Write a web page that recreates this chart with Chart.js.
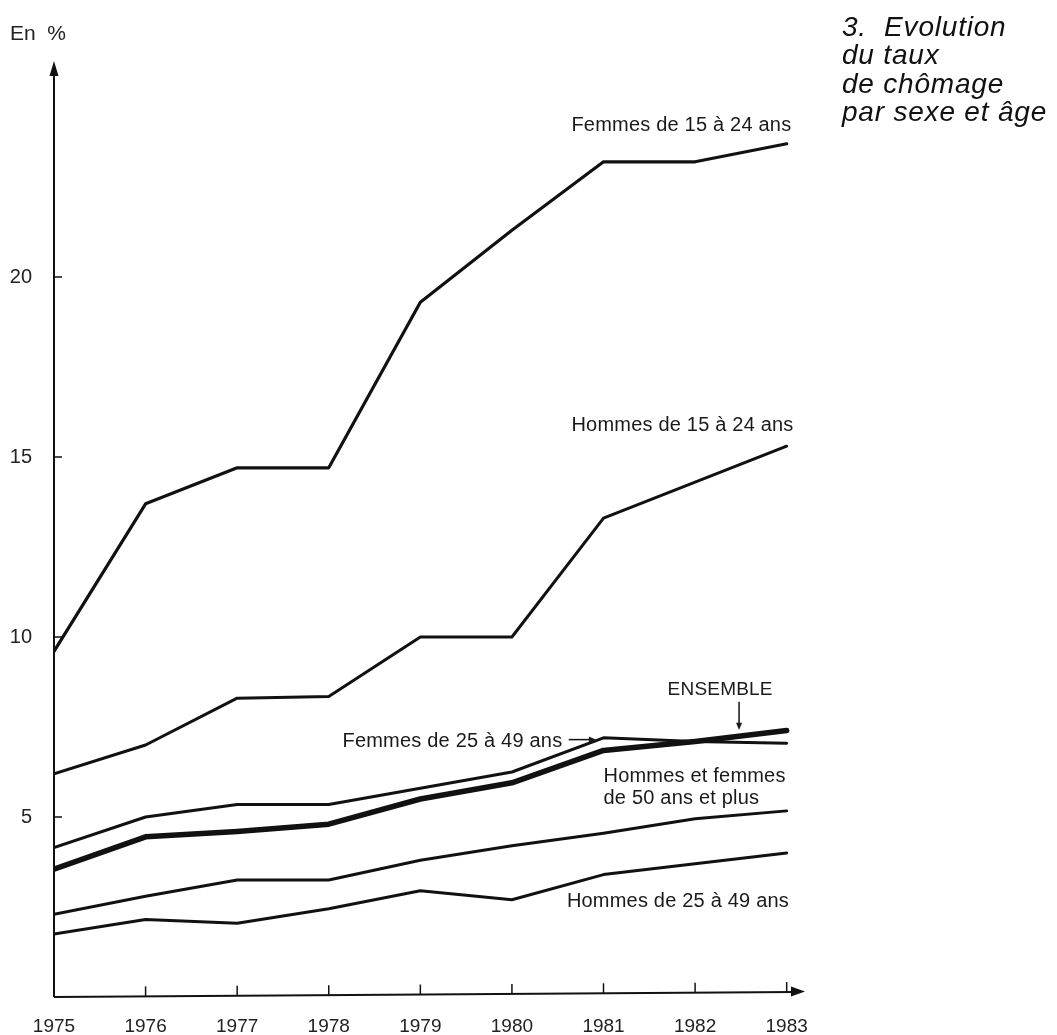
<!DOCTYPE html>
<html>
<head>
<meta charset="utf-8">
<script src="https://cdn.jsdelivr.net/npm/chart.js@4.4.1/dist/chart.umd.min.js"></script>
<style>
  html, body { margin: 0; padding: 0; background: #fff; }
  #wrap { position: relative; width: 1057px; height: 1035px; }
  #title {
    position: absolute; left: 842px; top: 13px;
    font-family: "Liberation Sans", Arial, sans-serif; font-style: italic;
    font-size: 28px; line-height: 28.3px; letter-spacing: 0.8px; color: #111;
    white-space: pre;
  }
  #unit {
    position: absolute; left: 10px; top: 21px;
    font-family: "Liberation Sans", Arial, sans-serif; font-size: 21px; color: #222;
    white-space: pre;
  }
</style>
</head>
<body>
<div id="wrap">
  <canvas id="c" width="1057" height="1035"></canvas>
  <div id="title">3.  Evolution
du taux
de chômage
par sexe et âge</div>
  <div id="unit">En  %</div>
</div>
<script>
// ---- data ----
const years = [1975, 1976, 1977, 1978, 1979, 1980, 1981, 1982, 1983];
const yearLabels = ["1975", "1976", "1977", "1978", "1979", "1980", "1981", "1982", "1983"];
const yTickValues = [5, 10, 15, 20];
const femmes1524 = [9.6, 13.7, 14.7, 14.7, 19.3, 21.3, 23.2, 23.2, 23.7];
const hommes1524 = [6.2, 7.0, 8.3, 8.35, 10.0, 10.0, 13.3, 14.3, 15.3];
const femmes2549 = [4.15, 5.0, 5.35, 5.35, 5.8, 6.25, 7.2, 7.1, 7.05];
const ensemble   = [3.55, 4.45, 4.6, 4.8, 5.5, 5.95, 6.85, 7.1, 7.4];
const plus50     = [2.3, 2.8, 3.25, 3.25, 3.8, 4.2, 4.55, 4.95, 5.17];
const hommes2549 = [1.75, 2.15, 2.05, 2.45, 2.95, 2.7, 3.4, 3.7, 4.0];

const INK = '#111';
const FONT = '"Liberation Sans", Arial, sans-serif';

function pts(arr) { return years.map((yr, i) => ({ x: yr, y: arr[i] })); }
function ds(label, arr, w) {
  return {
    label, data: pts(arr), borderColor: INK, backgroundColor: INK,
    borderWidth: w, pointRadius: 0, tension: 0, fill: false,
    borderJoinStyle: 'round', borderCapStyle: 'round'
  };
}

const axesPlugin = {
  id: 'axesPlugin',
  beforeDatasetsDraw(chart) {
    const { ctx, chartArea: a, scales: { x, y } } = chart;
    const x0 = x.getPixelForValue(years[0]);
    const y0 = y.getPixelForValue(0);
    ctx.save();
    ctx.strokeStyle = INK; ctx.fillStyle = INK; ctx.lineWidth = 2;
    // y axis
    ctx.beginPath(); ctx.moveTo(x0, y0); ctx.lineTo(x0, a.top + 10); ctx.stroke();
    ctx.beginPath(); ctx.moveTo(x0, a.top); ctx.lineTo(x0 - 4.5, a.top + 15); ctx.lineTo(x0 + 4.5, a.top + 15); ctx.closePath(); ctx.fill();
    // x axis
    ctx.beginPath(); ctx.moveTo(x0, y0); ctx.lineTo(a.right - 10, y0 - 5); ctx.stroke();
    ctx.beginPath(); ctx.moveTo(a.right, y0 - 5.5); ctx.lineTo(a.right - 14, y0 - 10.5); ctx.lineTo(a.right - 14, y0 - 0.5); ctx.closePath(); ctx.fill();
    // inner ticks
    ctx.lineWidth = 1.5;
    yTickValues.forEach(v => {
      const py = y.getPixelForValue(v);
      ctx.beginPath(); ctx.moveTo(x0, py); ctx.lineTo(x0 + 8, py); ctx.stroke();
    });
    years.forEach((yr, i) => {
      if (i === 0) return;
      const px = x.getPixelForValue(yr);
      const slope = -5 * (px - x0) / (a.right - 10 - x0);
      ctx.beginPath(); ctx.moveTo(px, y0 + slope); ctx.lineTo(px, y0 + slope - 10); ctx.stroke();
    });
    ctx.restore();
  },
  afterDraw(chart) {
    const { ctx, scales: { x, y } } = chart;
    ctx.save();
    ctx.fillStyle = '#1a1a1a'; ctx.strokeStyle = INK;
    ctx.font = '20px ' + FONT;
    ctx.textBaseline = 'alphabetic';
    try { ctx.letterSpacing = '0.2px'; } catch (e) {}
    const txt = (s, px, py) => ctx.fillText(s, px, py);
    const X = v => x.getPixelForValue(v);
    const Y = v => y.getPixelForValue(v);
    txt('Femmes de 15 à 24 ans', X(1980.65), Y(24.05));
    txt('Hommes de 15 à 24 ans', X(1980.65), Y(15.72));
    txt('Hommes et femmes', X(1981.0), Y(5.97));
    txt('de 50 ans et plus', X(1981.0), Y(5.35));
    txt('Hommes de 25 à 49 ans', X(1980.6), Y(2.5));
    txt('Femmes de 25 à 49 ans', X(1978.15), Y(6.95));
    ctx.font = '19px ' + FONT;
    txt('ENSEMBLE', X(1981.7), Y(8.39));
    // pointer lines
    ctx.lineWidth = 1.5;
    const ax = X(1982.48);
    ctx.beginPath(); ctx.moveTo(ax, Y(8.2)); ctx.lineTo(ax, Y(7.55)); ctx.stroke();
    ctx.beginPath(); ctx.moveTo(ax - 3, Y(7.62)); ctx.lineTo(ax, Y(7.42)); ctx.lineTo(ax + 3, Y(7.62)); ctx.closePath(); ctx.fill();
    const ly = Y(7.15);
    ctx.beginPath(); ctx.moveTo(X(1980.62), ly); ctx.lineTo(X(1980.86), ly); ctx.stroke();
    ctx.beginPath(); ctx.moveTo(X(1980.94), ly + 1); ctx.lineTo(X(1980.84), ly - 3); ctx.lineTo(X(1980.84), ly + 3.5); ctx.closePath(); ctx.fill();
    ctx.restore();
  }
};

new Chart(document.getElementById('c'), {
  type: 'line',
  data: {
    datasets: [
      ds('Femmes de 15 à 24 ans', femmes1524, 3.2),
      ds('Hommes de 15 à 24 ans', hommes1524, 3),
      ds('Femmes de 25 à 49 ans', femmes2549, 3),
      ds('Ensemble', ensemble, 5.5),
      ds('Hommes et femmes de 50 ans et plus', plus50, 3),
      ds('Hommes de 25 à 49 ans', hommes2549, 3)
    ]
  },
  options: {
    responsive: false,
    animation: false,
    events: [],
    layout: { padding: { top: 61, right: 252, bottom: 0, left: 0 } },
    plugins: { legend: { display: false }, tooltip: { enabled: false } },
    scales: {
      x: {
        type: 'linear', min: 1975, max: 1983.2,
        grid: { display: false, drawTicks: false },
        border: { display: false },
        afterFit: s => { s.height = 38; },
        afterBuildTicks: s => { s.ticks = years.map(v => ({ value: v })); },
        ticks: {
          padding: 18, color: '#222', font: { family: FONT, size: 19 },
          maxRotation: 0, autoSkip: false,
          callback: v => { const i = years.indexOf(v); return i >= 0 ? yearLabels[i] : ''; }
        }
      },
      y: {
        type: 'linear', min: 0, max: 26,
        grid: { display: false, drawTicks: false },
        border: { display: false },
        afterFit: s => { s.width = 54; },
        afterBuildTicks: s => { s.ticks = yTickValues.map(v => ({ value: v })); },
        ticks: {
          padding: 22, color: '#222', font: { family: FONT, size: 20 },
          callback: v => String(v)
        }
      }
    }
  },
  plugins: [axesPlugin]
});
</script>
</body>
</html>
